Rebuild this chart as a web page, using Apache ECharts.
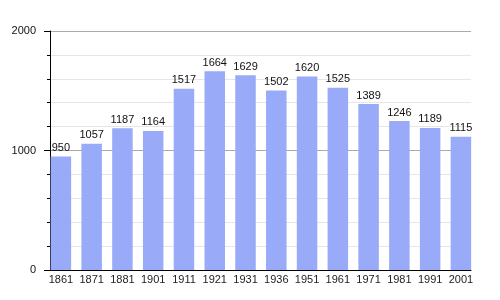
<!DOCTYPE html>
<html><head><meta charset="utf-8">
<script src="https://cdn.jsdelivr.net/npm/echarts@6/dist/echarts.min.js"></script>
<style>html,body{margin:0;padding:0;background:#fff}#c{width:500px;height:300px}</style>
</head><body><div id="c"></div>
<script>
const years = ['1861','1871','1881','1901','1911','1921','1931','1936','1951','1961','1971','1981','1991','2001'];
const population = [950,1057,1187,1164,1517,1664,1629,1502,1620,1525,1389,1246,1189,1115];
const yMin = 0, yMax = 2000, yStep = 1000;

const chart = echarts.init(document.getElementById('c'), null, {renderer:'canvas'});
const font = 'Liberation Sans, Arial, sans-serif';
chart.setOption({
  animation:false,
  backgroundColor:'#fff',
  grid:[
    {left:50, right:29, top:31, bottom:30},
    {left:45.5, right:23.7, top:31, bottom:30}
  ],
  xAxis:[
    {type:'value', gridIndex:0, min:0, max:1, axisLine:{show:true, onZero:false, lineStyle:{color:'#000', width:1}},
     axisTick:{show:false}, axisLabel:{show:false}, splitLine:{show:false}},
    {type:'category', gridIndex:1, data:years, boundaryGap:true,
     axisLine:{show:false}, axisTick:{show:false},
     axisLabel:{margin:4, fontSize:11, color:'#222', fontFamily:font, interval:0}}
  ],
  yAxis:[
    {type:'value', gridIndex:0, min:yMin, max:yMax, interval:yStep,
     axisLine:{show:true, lineStyle:{color:'#000', width:1}},
     axisTick:{show:true, length:6, lineStyle:{color:'#000'}},
     minorTick:{show:true, splitNumber:5, length:3, lineStyle:{color:'#000'}},
     splitLine:{show:true, lineStyle:{color:'#aaa', width:1}},
     minorSplitLine:{show:true, lineStyle:{color:'#e6e6e6', width:1}},
     axisLabel:{margin:14, fontSize:11, color:'#111', fontFamily:font, formatter:v => String(v)}},
    {type:'value', gridIndex:1, min:yMin, max:yMax, show:false}
  ],
  series:[{
    type:'bar', xAxisIndex:1, yAxisIndex:1, data:population, barWidth:20.5,
    itemStyle:{color:'#99aaf8'},
    label:{show:true, position:'top', distance:3, fontSize:11, color:'#111', fontFamily:font}
  }]
});
</script></body></html>
